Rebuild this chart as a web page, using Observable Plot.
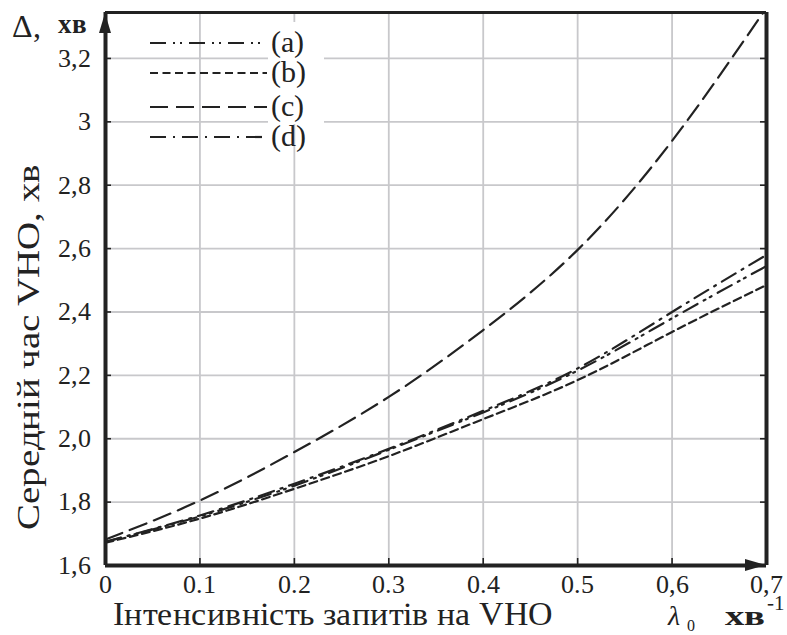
<!DOCTYPE html>
<html>
<head>
<meta charset="utf-8">
<script src="https://cdn.jsdelivr.net/npm/d3@7"></script>
<script src="https://cdn.jsdelivr.net/npm/@observablehq/plot@0.6"></script>
<style>
  @font-face {
    font-family: "ChartSerif";
    src: local("Liberation Serif"), local("LiberationSerif"), local("Liberation Serif Regular"), local("LiberationSerif-Regular");
    font-weight: 400;
    font-style: normal;
  }
  @font-face {
    font-family: "ChartSerif";
    src: local("Liberation Serif Bold"), local("LiberationSerif-Bold");
    font-weight: 700;
    font-style: normal;
  }
  @font-face {
    font-family: "ChartSerif";
    src: local("Liberation Serif Italic"), local("LiberationSerif-Italic");
    font-weight: 400;
    font-style: italic;
  }
  body { margin: 0; background: #fff; }
  svg text { font-family: "ChartSerif", "Liberation Serif", "Times New Roman", serif; font-weight: 400; }
</style>
</head>
<body>
<div id="chart"></div>
<script>
// ---- data ----
const lambda0 = [0, 0.1, 0.2, 0.3, 0.4, 0.5, 0.6, 0.7];
const seriesA = [1.675, 1.755, 1.852, 1.965, 2.083, 2.215, 2.38, 2.545];
const seriesB = [1.672, 1.748, 1.842, 1.945, 2.062, 2.185, 2.337, 2.485];
const seriesC = [1.682, 1.805, 1.958, 2.132, 2.343, 2.596, 2.94, 3.36];
const seriesD = [1.675, 1.758, 1.858, 1.968, 2.088, 2.222, 2.40, 2.58];
const seriesKeys = ["a", "b", "c", "d"];
const legendLabels = ["(a)", "(b)", "(c)", "(d)"];

const xTicks = [0, 0.1, 0.2, 0.3, 0.4, 0.5, 0.6, 0.7];
const xTickLabels = ["0", "0.1", "0.2", "0.3", "0.4", "0.5", "0,6", "0,7"];
const yTicks = [1.6, 1.8, 2.0, 2.2, 2.4, 2.6, 2.8, 3.0, 3.2];
const yTickLabels = ["1,6", "1,8", "2,0", "2,2", "2,4", "2,6", "2,8", "3", "3,2"];

const xTitle = "Інтенсивність запитів на VHO";
const yTitle = "Середній час VHO, хв";
const cornerSymbol = "Δ,";
const unitText = "хв";
const lambdaSymbol = "λ";
const lambdaSub = "0";
const unitSup = "-1";

// ---- build table ----
const allSeries = {a: seriesA, b: seriesB, c: seriesC, d: seriesD};
const rows = [];
for (const k of seriesKeys) allSeries[k].forEach((v, i) => rows.push({key: k, x: lambda0[i], y: v}));

const dashes = {a: "16,7,2,5,2,7", b: "8,4.5", c: "18,8", d: "16,7,2,7"};
const ink = "#222";
const W = 787, H = 635;
const mL = 105, mR = 21, mT = 12, mB = 70;
const pw = W - mL - mR, ph = H - mT - mB;
const xLab = new Map(xTicks.map((d, i) => [d, xTickLabels[i]]));
const yLab = new Map(yTicks.map((d, i) => [d, yTickLabels[i]]));
const fam = '"ChartSerif", "Liberation Serif", "Times New Roman", serif';

const plot = Plot.plot({
  width: W, height: H,
  marginLeft: mL, marginRight: mR, marginTop: mT, marginBottom: mB,
  style: {fontFamily: fam, background: "#fff"},
  x: {domain: [0, 0.7]},
  y: {domain: [1.6, 3.345]},
  marks: [
    Plot.gridX(xTicks.slice(1, -1), {stroke: "#c8c8cb", strokeOpacity: 1, strokeWidth: 1.8}),
    Plot.gridY(yTicks.slice(1), {stroke: "#c8c8cb", strokeOpacity: 1, strokeWidth: 1.8}),
    ...seriesKeys.map(k => Plot.line(rows.filter(r => r.key === k), {
      x: "x", y: "y", curve: "natural", stroke: ink, strokeWidth: 2.2,
      strokeDasharray: dashes[k], clip: true
    })),
    Plot.tickY(yTicks.slice(1), {y: d => d, insetRight: pw - 6, stroke: ink, strokeWidth: 1.6}),
    Plot.tickY(yTicks.slice(1), {y: d => d, insetLeft: pw - 6, stroke: ink, strokeWidth: 1.6}),
    Plot.tickX(xTicks.slice(1), {x: d => d, insetTop: ph - 7, stroke: ink, strokeWidth: 1.6}),
    Plot.ruleY([3.345], {stroke: ink, strokeWidth: 3}),
    Plot.ruleX([0.7], {stroke: ink, strokeWidth: 4}),
    Plot.ruleX([0], {stroke: ink, strokeWidth: 4}),
    Plot.ruleY([1.6], {stroke: ink, strokeWidth: 4}),
    Plot.axisX(xTicks, {tickSize: 0, tickPadding: 9, fontSize: 26, tickFormat: d => xLab.get(d), label: null, fill: ink}),
    Plot.axisY(yTicks, {tickSize: 0, tickPadding: 15, fontSize: 26, tickFormat: d => yLab.get(d), label: null, fill: ink})
  ]
});
document.getElementById("chart").appendChild(plot);

// ---- annotations (arrows, titles, legend) ----
const svg = d3.select(plot);
svg.append("path").attr("d", `M${mL},${mT + 1} L${mL - 6},${mT + 21} L${mL + 6},${mT + 21} Z`).attr("fill", ink);
svg.append("path").attr("d", `M${mL + pw},${mT + ph} L${mL + pw - 21},${mT + ph - 6} L${mL + pw - 21},${mT + ph + 6} Z`).attr("fill", ink);

const txt = (s, x, y, size, opts = {}) => {
  const t = svg.append("text").attr("x", x).attr("y", y)
    .attr("text-anchor", "start").attr("font-size", size).attr("fill", ink).text(s);
  for (const [k, v] of Object.entries(opts)) t.style(k, v);
  return t;
};
txt(cornerSymbol, 12, 37, 32);
txt(unitText, 58, 33, 27, {"font-weight": "700"});
txt(xTitle, 113, 625, 33).attr("textLength", 440).attr("lengthAdjust", "spacingAndGlyphs");
txt(lambdaSymbol, 668, 625, 28, {"font-style": "italic"});
txt(lambdaSub, 687, 631, 16);
txt(unitText, 725, 625, 28, {"font-weight": "700"}).attr("textLength", 40).attr("lengthAdjust", "spacingAndGlyphs");
txt(unitSup, 767, 610, 21);
svg.append("text").attr("transform", "translate(39,347) rotate(-90)")
  .attr("text-anchor", "middle").attr("font-size", 32)
  .attr("fill", ink).attr("textLength", 365).attr("lengthAdjust", "spacingAndGlyphs").text(yTitle);

// legend
svg.append("rect").attr("x", 268).attr("y", 22).attr("width", 56).attr("height", 102).attr("fill", "#fff");
const legendY = [43, 73, 107, 137];
seriesKeys.forEach((k, i) => {
  svg.append("line").attr("x1", 150).attr("x2", 267).attr("y1", legendY[i]).attr("y2", legendY[i])
    .attr("stroke", ink).attr("stroke-width", 2.2).attr("stroke-dasharray", dashes[k]);
  txt(legendLabels[i], 271, legendY[i] + 9, 30);
});
</script>
</body>
</html>
